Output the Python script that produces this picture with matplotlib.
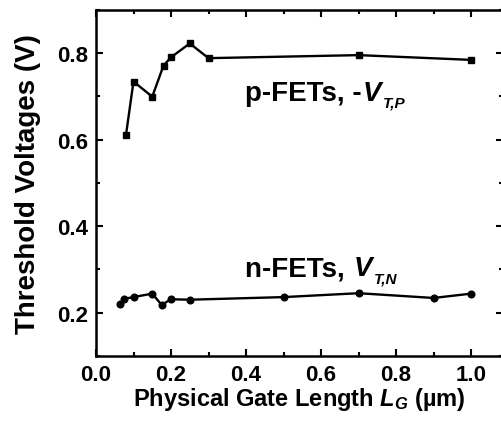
import matplotlib
matplotlib.use("Agg")
import matplotlib.pyplot as plt
from matplotlib.ticker import MultipleLocator

#Data
p_lg = [0.08, 0.10, 0.15, 0.18, 0.20, 0.25, 0.30, 0.70, 1.00]
p_vt = [0.611, 0.734, 0.699, 0.771, 0.790, 0.822, 0.788, 0.795, 0.784]
n_lg = [0.065, 0.075, 0.10, 0.15, 0.175, 0.20, 0.25, 0.50, 0.70, 0.90, 1.00]
n_vt = [0.219, 0.232, 0.236, 0.244, 0.218, 0.231, 0.230, 0.236, 0.245, 0.234, 0.244]

plt.rcParams['font.family'] = ['Liberation Sans', 'DejaVu Sans']
plt.rcParams['font.weight'] = 'bold'
plt.rcParams['mathtext.fontset'] = 'custom'
plt.rcParams['mathtext.rm'] = 'Liberation Sans:bold'
plt.rcParams['mathtext.it'] = 'Liberation Sans:italic:bold'
plt.rcParams['mathtext.bf'] = 'Liberation Sans:bold'

fig = plt.figure(figsize=(5.01, 4.27), dpi=100)
ax = fig.add_axes([0.1916, 0.164, 0.8124, 0.811])

#Plot both transistor types
ax.plot(p_lg, p_vt, '-', color='black', lw=1.7, marker='s', ms=4.5)
ax.plot(n_lg, n_vt, '-', color='black', lw=1.7, marker='o', ms=4.8)

#Curve labels: main text, italic V, then a small dropped subscript
def label(x, y, head, sub):
    t1 = ax.text(x, y, head, fontsize=20, fontweight='bold', ha='left', va='baseline')
    t2 = ax.annotate('V', xy=(1, 0), xycoords=t1, xytext=(1, 0), textcoords='offset points',
                     fontsize=20, fontweight='bold', style='italic', ha='left', va='bottom')
    ax.annotate(sub, xy=(1, 0), xycoords=t2, xytext=(1, -3), textcoords='offset points',
                fontsize=11, fontweight='bold', style='italic', ha='left', va='bottom')

label(0.397, 0.692, 'p-FETs, -', 'T,P')
label(0.397, 0.287, 'n-FETs, ', 'T,N')

ax.set_xlim(0, 1.085)
ax.set_ylim(0.1, 0.9)
ax.xaxis.set_major_locator(MultipleLocator(0.2))
ax.xaxis.set_minor_locator(MultipleLocator(0.1))
ax.yaxis.set_major_locator(MultipleLocator(0.2))
ax.yaxis.set_minor_locator(MultipleLocator(0.1))
ax.tick_params(which='both', direction='in', top=True, right=True, width=1.5)
ax.tick_params(which='major', length=5, labelsize=16, pad=6)
ax.tick_params(which='minor', length=3)
for lab in ax.get_xticklabels() + ax.get_yticklabels():
    lab.set_fontweight('bold')
for s in ax.spines.values():
    s.set_linewidth(1.8)

ax.set_xlabel(r'Physical Gate Length $L_G$ (µm)', fontsize=17, fontweight='bold', labelpad=0)
ax.set_ylabel('Threshold Voltages (V)', fontsize=20, fontweight='bold', labelpad=11)

fig.savefig('out.png', dpi=100)
